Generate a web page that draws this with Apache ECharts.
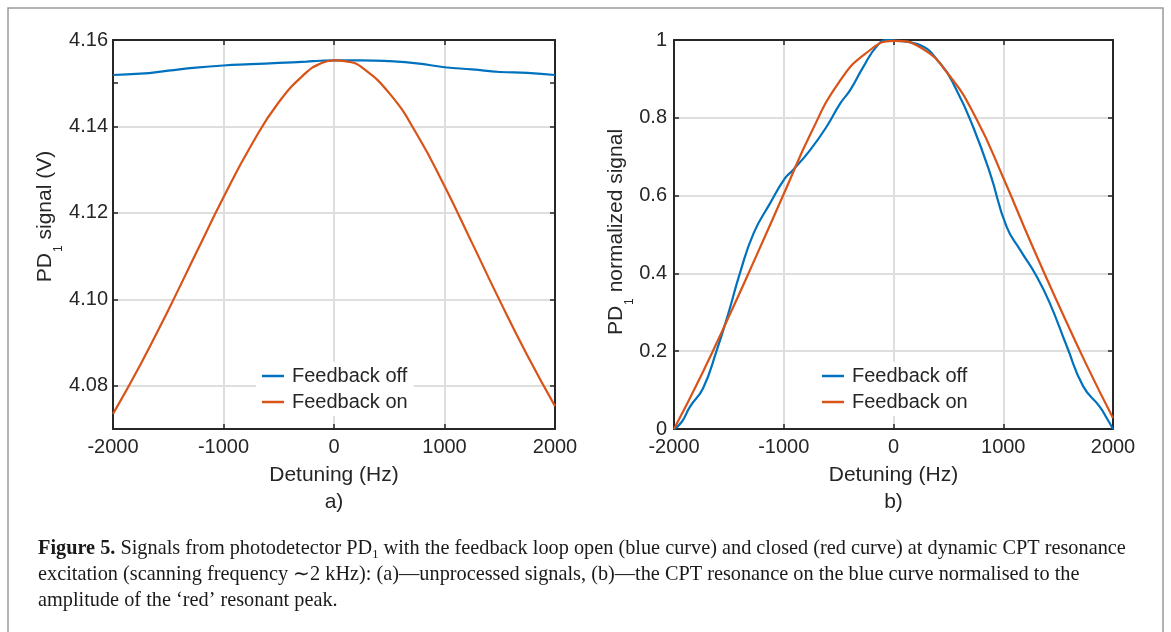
<!DOCTYPE html>
<html>
<head>
<meta charset="utf-8">
<title>Figure 5</title>
<script src="https://cdn.jsdelivr.net/npm/echarts@6/dist/echarts.min.js"></script>
<style>
  html, body { margin: 0; padding: 0; background: #fff; }
  #chart { width: 1171px; height: 632px; }
</style>
</head>
<body>
<div id="chart"></div>
<script>
// panel a) raw PD1 signal (V)
const detuningA = [-2000, -1750, -1500, -1250, -1000, -750, -500, -250, -125, 0, 125, 250, 500, 750, 1000, 1250, 1500, 1750, 2000];
const signalOffA = [4.1519, 4.1522, 4.1529, 4.1536, 4.1541, 4.1544, 4.1547, 4.1550, 4.1552, 4.1553, 4.1553, 4.1553, 4.1551, 4.1546, 4.1537, 4.1532, 4.1526, 4.1524, 4.1519];
const signalOnA = [4.0735, 4.0850, 4.0975, 4.1106, 4.1236, 4.1356, 4.1456, 4.1525, 4.1545, 4.1553, 4.1550, 4.1537, 4.1477, 4.1382, 4.1262, 4.1130, 4.0997, 4.0870, 4.0753];

// panel b) normalised signal
const detuningOnB = [-2000, -1750, -1500, -1250, -1000, -750, -500, -250, 0, 250, 500, 750, 1000, 1250, 1500, 1750, 2000];
const normOnB = [0, 0.139, 0.289, 0.445, 0.604, 0.762, 0.890, 0.966, 0.998, 0.980, 0.912, 0.800, 0.646, 0.480, 0.322, 0.170, 0.028];
const detuningOffB = [-2000, -1930, -1855, -1735, -1610, -1505, -1400, -1275, -1125, -990, -915, -760, -610, -485, -395, -275, -155, -60, 0, 210, 425, 575, 725, 880, 1030, 1155, 1305, 1425, 1580, 1730, 1880, 1945, 2000];
const normOffB = [0, 0.018, 0.057, 0.105, 0.203, 0.297, 0.4, 0.503, 0.58, 0.644, 0.666, 0.717, 0.777, 0.837, 0.871, 0.931, 0.983, 1.0, 0.999, 0.99, 0.94, 0.871, 0.777, 0.657, 0.52, 0.46, 0.392, 0.323, 0.212, 0.109, 0.057, 0.027, 0];

// tick values for panel a) (the figure has an extra tick at 4.15)
const yTicksA = [4.08, 4.10, 4.12, 4.14, 4.15, 4.16];
const yLabelsA = [4.08, 4.10, 4.12, 4.14, 4.16];
const yGridA = [4.08, 4.10, 4.12, 4.14];

const seriesNames = ['Feedback off', 'Feedback on'];

const BLUE = '#0072BD';
const RED = '#D95319';
const INK = '#262626';
const GRID = '#dedede';
const FONT = '"Liberation Sans", Arial, sans-serif';
const SERIF = '"Liberation Serif", "Times New Roman", serif';

const zip = (xs, ys) => xs.map((x, i) => [x, ys[i]]);

const boxLine = { onZero: false, lineStyle: { color: INK, width: 2 } };
const inTick = { inside: true, length: 5, lineStyle: { color: INK, width: 1.5 } };

const nameRich = {
  m: { fontFamily: FONT, fontSize: 21, color: INK, lineHeight: 24, verticalAlign: 'top' },
  s: { fontFamily: FONT, fontSize: 12, color: INK, lineHeight: 12, verticalAlign: 'top', padding: [18, 0, 0, 1] }
};

function bottomX(gridIndex, tag) {
  return {
    type: 'value', gridIndex, position: 'bottom',
    min: -2000, max: 2000, interval: 1000,
    name: 'Detuning (Hz)\n' + tag,
    nameLocation: 'middle', nameGap: 33,
    nameTextStyle: { fontFamily: FONT, fontSize: 21, color: INK, lineHeight: 27 },
    axisLine: boxLine,
    axisTick: inTick,
    axisLabel: { fontFamily: FONT, fontSize: 20, color: INK, margin: 8, formatter: (v) => String(v) },
    splitLine: { show: true, lineStyle: { color: GRID, width: 2 } }
  };
}

function topX(gridIndex) {
  return {
    type: 'value', gridIndex, position: 'top',
    min: -2000, max: 2000, interval: 1000,
    axisLine: boxLine, axisTick: inTick,
    axisLabel: { show: false }, splitLine: { show: false }
  };
}

function lineSeries(name, color, xi, yi, data) {
  return {
    type: 'line', name, xAxisIndex: xi, yAxisIndex: yi,
    data, showSymbol: false, smooth: 0.5,
    lineStyle: { color, width: 2.2 }, itemStyle: { color },
    emphasis: { disabled: true }
  };
}

function legendAt(left) {
  return {
    left, top: 362, orient: 'vertical',
    data: seriesNames, icon: 'rect', itemWidth: 22, itemHeight: 2.5, itemGap: 6,
    backgroundColor: '#fff', padding: [4, 6, 4, 6], selectedMode: false,
    textStyle: { fontFamily: FONT, fontSize: 20, color: INK, padding: [0, 0, 0, 3] }
  };
}

const chart = echarts.init(document.getElementById('chart'));

const option = {
  animation: false,
  backgroundColor: '#fff',
  grid: [
    { left: 113, top: 40, width: 442, height: 389 },
    { left: 674, top: 40, width: 439, height: 389 }
  ],
  xAxis: [bottomX(0, 'a)'), topX(0), bottomX(1, 'b)'), topX(1)],
  yAxis: [
    {
      type: 'value', gridIndex: 0, position: 'left', min: 4.07, max: 4.16,
      name: '{m|PD}{s|1}{m| signal (V)}', nameLocation: 'middle', nameGap: 50, nameRotate: 90,
      nameTextStyle: { rich: nameRich, padding: [0, 0, 0, 36] },
      axisLine: boxLine,
      axisTick: Object.assign({ customValues: yTicksA }, inTick),
      axisLabel: { customValues: yLabelsA, fontFamily: FONT, fontSize: 20, color: INK, margin: 5, formatter: (v) => v.toFixed(2) },
      splitLine: { show: false }
    },
    {
      type: 'value', gridIndex: 0, position: 'right', min: 4.07, max: 4.16,
      axisLine: boxLine,
      axisTick: Object.assign({ customValues: yTicksA }, inTick),
      axisLabel: { show: false }, splitLine: { show: false }
    },
    {
      // only carries the horizontal grid lines of panel a)
      type: 'value', gridIndex: 0, position: 'left', min: 4.07, max: 4.16,
      axisLine: { show: false },
      axisTick: { show: false, customValues: yGridA },
      axisLabel: { show: false },
      splitLine: { show: true, lineStyle: { color: GRID, width: 2 } }
    },
    {
      type: 'value', gridIndex: 1, position: 'left', min: 0, max: 1, interval: 0.2,
      name: '{m|PD}{s|1}{m| normalized signal}', nameLocation: 'middle', nameGap: 28, nameRotate: 90,
      nameTextStyle: { rich: nameRich, padding: [0, 0, 0, 5] },
      axisLine: boxLine, axisTick: inTick,
      axisLabel: { fontFamily: FONT, fontSize: 20, color: INK, margin: 7 },
      splitLine: { show: true, lineStyle: { color: GRID, width: 2 } }
    },
    {
      type: 'value', gridIndex: 1, position: 'right', min: 0, max: 1, interval: 0.2,
      axisLine: boxLine, axisTick: inTick,
      axisLabel: { show: false }, splitLine: { show: false }
    }
  ],
  legend: [legendAt(256), legendAt(816)],
  series: [
    lineSeries(seriesNames[0], BLUE, 0, 0, zip(detuningA, signalOffA)),
    lineSeries(seriesNames[1], RED, 0, 0, zip(detuningA, signalOnA)),
    lineSeries(seriesNames[0], BLUE, 2, 3, zip(detuningOffB, normOffB)),
    lineSeries(seriesNames[1], RED, 2, 3, zip(detuningOnB, normOnB))
  ],
  graphic: [
    {
      type: 'rect', silent: true, z: -10,
      shape: { x: 8, y: 8, width: 1155, height: 700 },
      style: { fill: 'none', stroke: '#9a9a9a', lineWidth: 1.5 }
    },
    {
      type: 'text', left: 38, top: 536, silent: true,
      style: {
        text: '{b|Figure 5.} Signals from photodetector PD{s|1} with the feedback loop open (blue curve) and closed (red curve) at dynamic CPT resonance\n' +
              'excitation (scanning frequency \u223C2 kHz): (a)\u2014unprocessed signals, (b)\u2014the CPT resonance on the blue curve normalised to the\n' +
              'amplitude of the \u2018red\u2019 resonant peak.',
        fontFamily: SERIF, fontSize: 20.3, fill: '#1a1a1a', lineHeight: 26,
        rich: {
          b: { fontFamily: SERIF, fontSize: 20.3, fontWeight: 'bold', fill: '#1a1a1a', lineHeight: 26 },
          s: { fontFamily: SERIF, fontSize: 12.5, fill: '#1a1a1a', lineHeight: 12, padding: [12, 0, 0, 0] }
        }
      }
    }
  ]
};

chart.setOption(option);
window.addEventListener('resize', () => chart.resize());
</script>
</body>
</html>
